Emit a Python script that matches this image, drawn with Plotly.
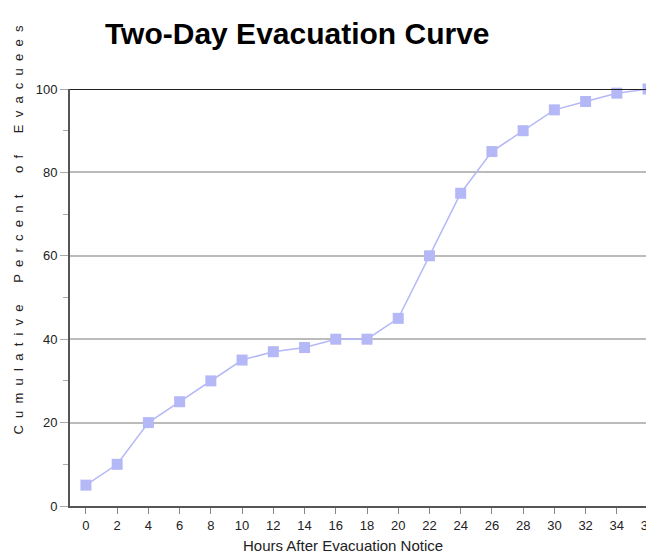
import plotly.graph_objects as go

hours = [0, 2, 4, 6, 8, 10, 12, 14, 16, 18, 20, 22, 24, 26, 28, 30, 32, 34, 36]
percent = [5, 10, 20, 25, 30, 35, 37, 38, 40, 40, 45, 60, 75, 85, 90, 95, 97, 99, 100]
title_text = "Two-Day Evacuation Curve"
x_title = "Hours After Evacuation Notice"
y_words = ["Cumulative", "Percent", "of", "Evacuees"]

NB = "\u00a0"
y_title = (NB * 6).join((NB * 2).join(list(w)) for w in y_words)

# page body has an 8px margin: the figure is drawn 8px right/down of the window corner
W, H = 646, 548
L, R, T, B = 62, 0, 81, 50
PW, PH = W - L - R, H - T - B

col = "#b4b8f6"
fig = go.Figure()
fig.add_trace(go.Scatter(
    x=hours, y=percent, mode="lines+markers",
    line=dict(color=col, width=1.5),
    marker=dict(symbol="square", size=11, color=col),
    cliponaxis=False, showlegend=False,
))

sans = "Liberation Sans, Arial"
tickfont = dict(family=sans, size=13, color="#222")
fig.update_layout(
    width=W, height=H,
    paper_bgcolor="white", plot_bgcolor="white",
    margin=dict(l=L, r=R, t=T, b=B),
    title=dict(text="<b>" + title_text + "</b>", x=97/W, xanchor="left", y=1 - 25/H, yanchor="middle",
               font=dict(family=sans, size=30, color="black")),
    xaxis=dict(range=[-1.02, 36.38], tickvals=hours, ticks="outside", ticklen=6, tickcolor="#888",
               showline=True, linecolor="#555", linewidth=2, showgrid=False, zeroline=False,
               tickfont=tickfont, ticklabeloverflow="allow"),
    yaxis=dict(range=[0, 100], dtick=20, ticks="outside", ticklen=8, tickcolor="#aaa",
               showline=True, linecolor="#555", linewidth=2, showgrid=True, gridcolor="#bbbbbb", gridwidth=2,
               zeroline=False, tickfont=tickfont,
               minor=dict(dtick=10, ticks="outside", ticklen=5, tickcolor="#aaa", showgrid=False)),
    shapes=[dict(type="line", xref="paper", yref="y", x0=0, x1=1, y0=100, y1=100,
                 line=dict(color="#222", width=2))],
    annotations=[
        dict(text=x_title, xref="paper", yref="paper", x=(335-L)/PW, y=-(537-(T+PH))/PH,
             xanchor="center", yanchor="middle", showarrow=False,
             font=dict(family=sans, size=15, color="#222")),
        dict(text=y_title, xref="paper", yref="paper", x=-(L-10)/PW, y=((T+PH)-429)/PH,
             xanchor="center", yanchor="bottom", textangle=-90, showarrow=False,
             font=dict(family=sans, size=13, color="#222")),
    ],
)
fig.write_html("out.html")
